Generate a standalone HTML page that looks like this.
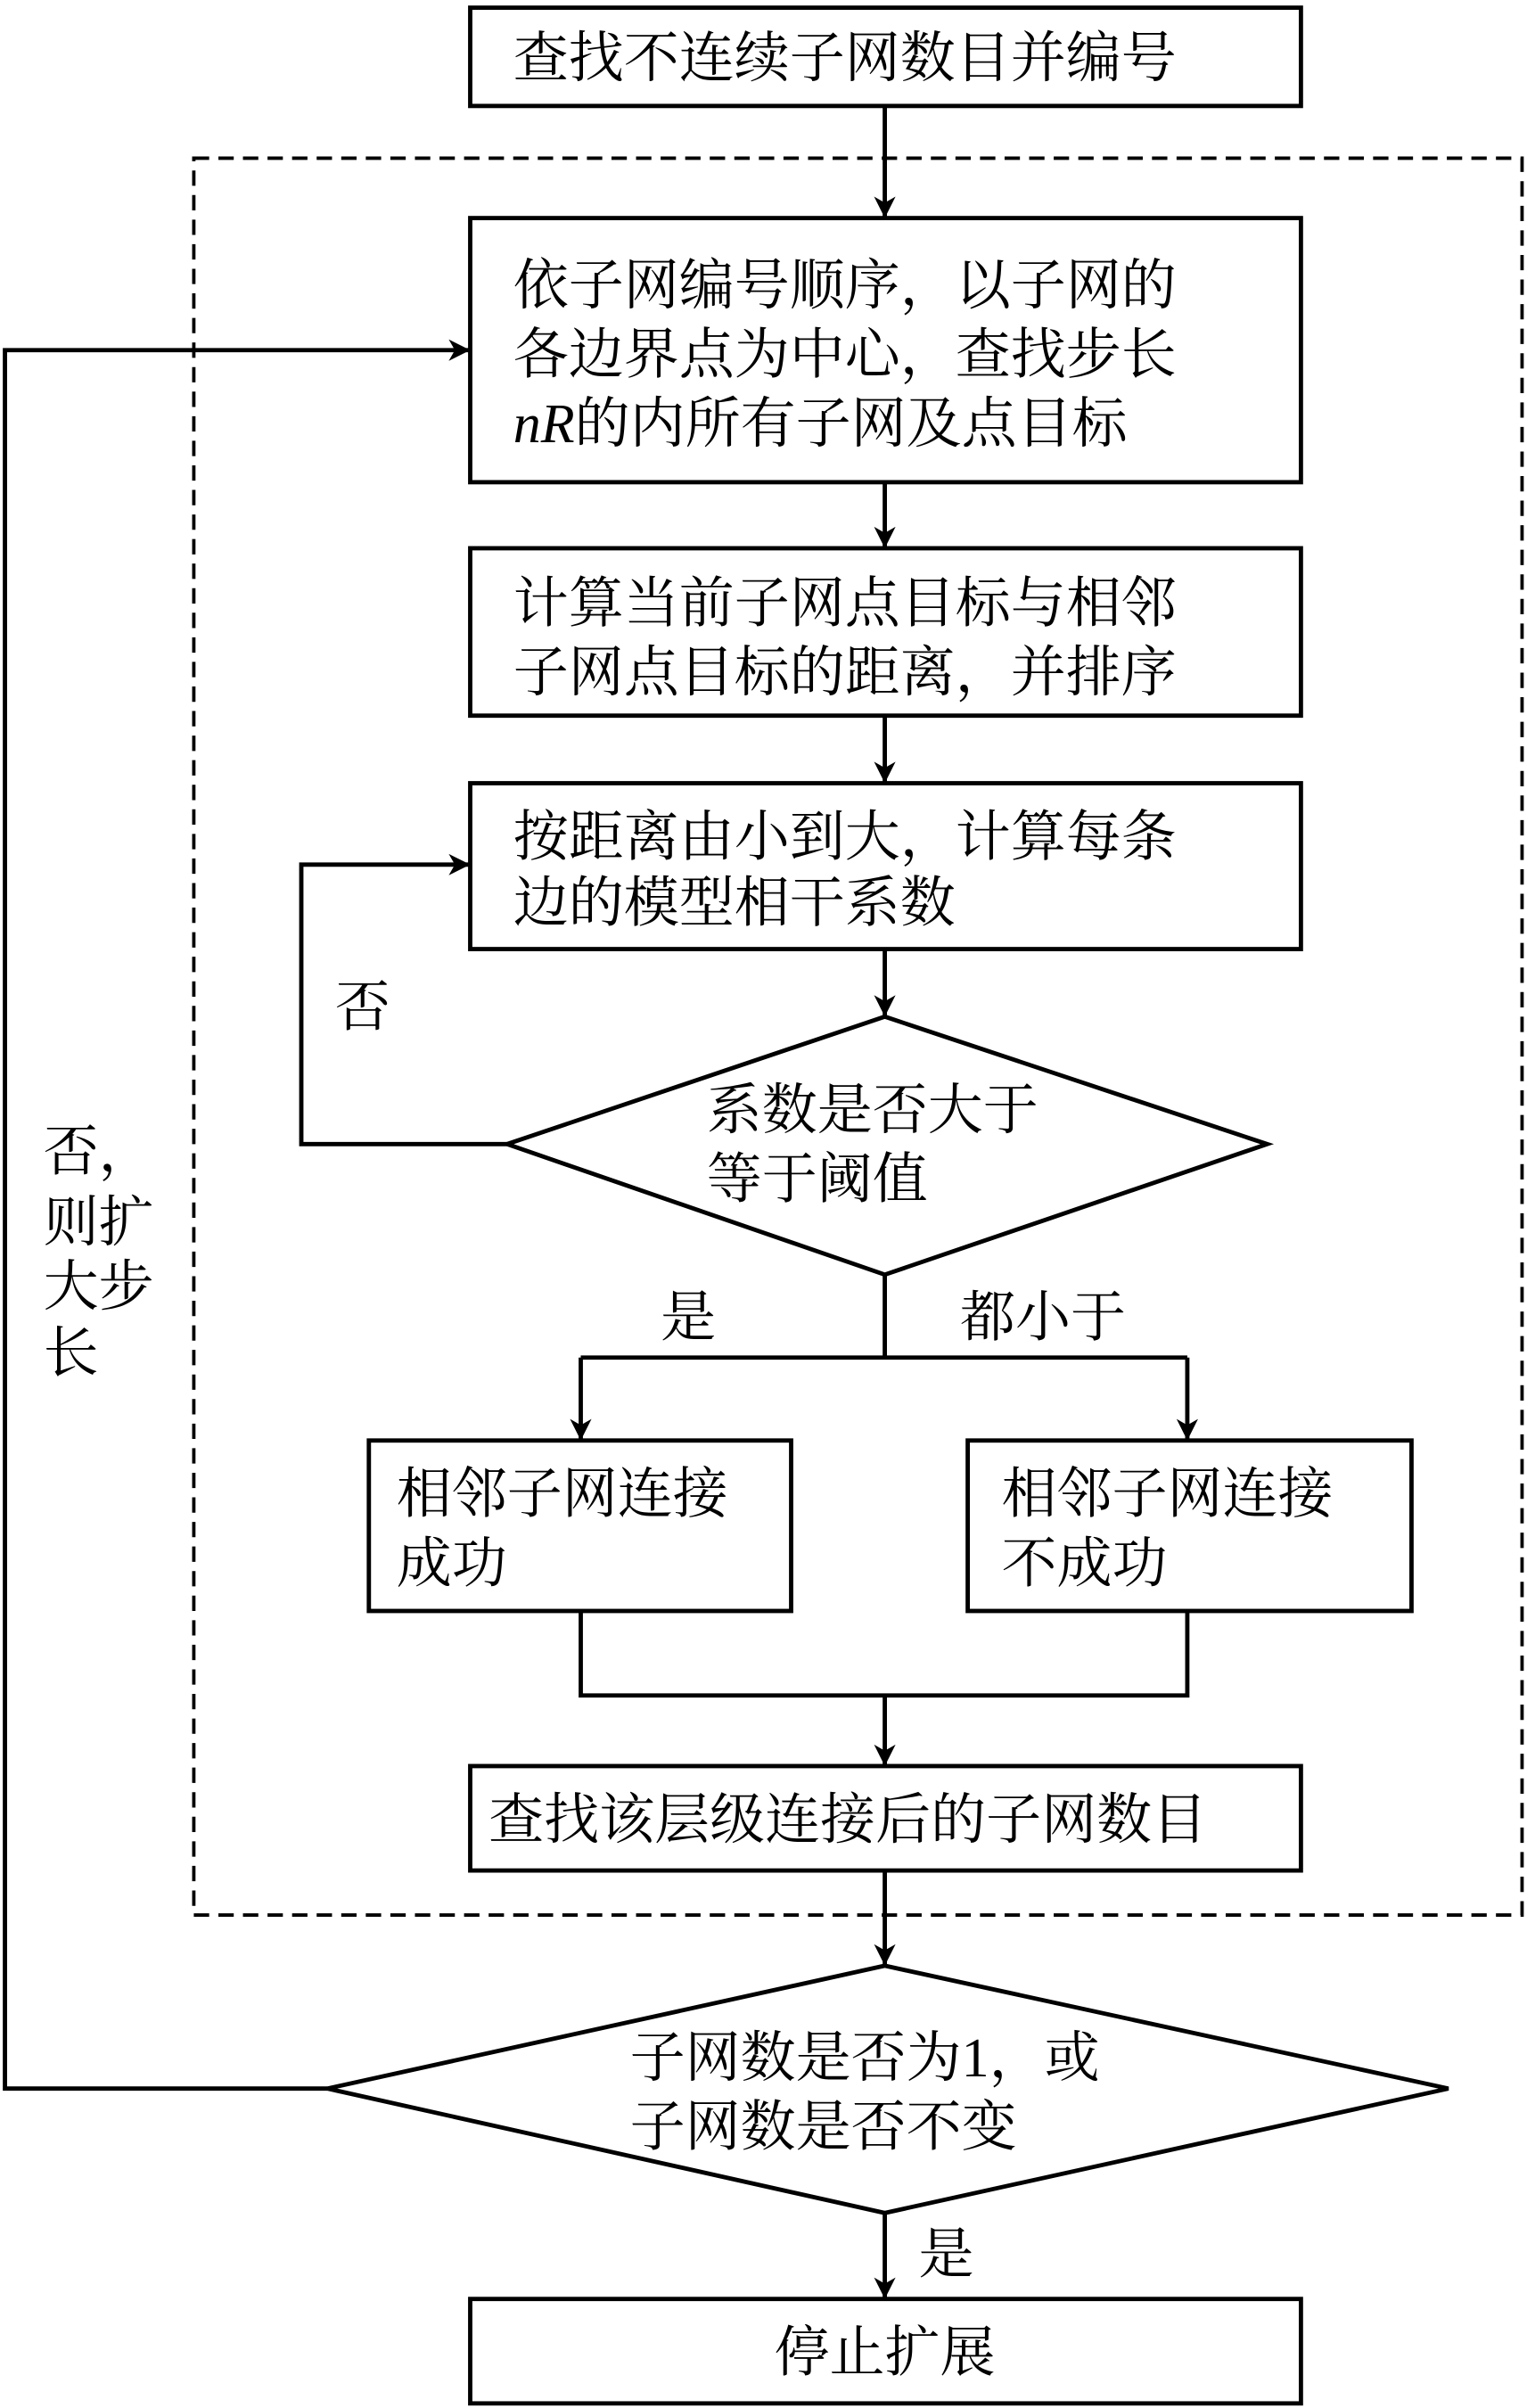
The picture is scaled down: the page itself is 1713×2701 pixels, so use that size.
<!DOCTYPE html>
<html><head><meta charset="utf-8"><style>
html,body{margin:0;padding:0;background:#fff;}
svg{display:block;}
text{font-family:"Liberation Serif","Noto Serif CJK SC",serif;font-size:36px;fill:#000;}
</style></head><body>
<svg width="1713" height="2701" viewBox="0 0 994 1568" xmlns="http://www.w3.org/2000/svg">
<defs><marker id="a" markerWidth="10" markerHeight="10" refX="9" refY="5" orient="auto" markerUnits="userSpaceOnUse"><path d="M0,0 L10,5 L0,10 L3,5 z" fill="#000"/></marker>
<marker id="b" markerWidth="14" markerHeight="16" refX="13" refY="8" orient="auto" markerUnits="userSpaceOnUse"><path d="M0,1 L14,8 L0,15 L4,8 z" fill="#000"/></marker></defs>
<g fill="none" stroke="#000" stroke-width="2.8">
<rect x="126" y="103" width="865" height="1144" stroke-dasharray="10,6" stroke-width="2.2"/>
<rect x="306" y="5" width="541" height="64"/>
<rect x="306" y="142" width="541" height="172"/>
<rect x="306" y="357" width="541" height="109"/>
<rect x="306" y="510" width="541" height="108"/>
<polygon points="576,662 825,745 576,830 330,745"/>
<rect x="240" y="938" width="275" height="111"/>
<rect x="630" y="938" width="289" height="111"/>
<rect x="306" y="1150" width="541" height="68"/>
<polygon points="576,1280 943,1360 576,1441 213,1360"/>
<rect x="306" y="1497" width="541" height="68"/>
<g marker-end="url(#b)">
<line x1="576" y1="69" x2="576" y2="141"/>
<line x1="576" y1="314" x2="576" y2="356"/>
<line x1="576" y1="466" x2="576" y2="509"/>
<line x1="576" y1="618" x2="576" y2="661"/>
<polyline points="330,745 196,745 196,563 305,563"/>
<line x1="378" y1="884" x2="378" y2="937"/>
<line x1="773" y1="884" x2="773" y2="937"/>
<line x1="576" y1="1104" x2="576" y2="1149"/>
<line x1="576" y1="1218" x2="576" y2="1279"/>
<polyline points="213,1360 3,1360 3,228 305,228"/>
<line x1="576" y1="1441" x2="576" y2="1496"/>
</g>
<polyline points="576,830 576,884"/>
<line x1="378" y1="884" x2="773" y2="884"/>
<polyline points="378,1049 378,1104 773,1104 773,1049"/>
</g>
<text x="334" y="50">查找不连续子网数目并编号</text>
<text x="334" y="198">依子网编号顺序，以子网的</text>
<text x="334" y="243">各边界点为中心，查找步长</text>
<text x="334" y="288"><tspan font-style="italic">nR</tspan>的内所有子网及点目标</text>
<text x="334" y="405">计算当前子网点目标与相邻</text>
<text x="334" y="450">子网点目标的距离，并排序</text>
<text x="334" y="557">按距离由小到大，计算每条</text>
<text x="334" y="600">边的模型相干系数</text>
<text x="218" y="668">否</text>
<text x="460" y="735">系数是否大于</text>
<text x="460" y="780">等于阈值</text>
<text x="430" y="870">是</text>
<text x="625" y="870">都小于</text>
<text x="258" y="985">相邻子网连接</text>
<text x="258" y="1030">成功</text>
<text x="652" y="985">相邻子网连接</text>
<text x="652" y="1030">不成功</text>
<text x="318" y="1197">查找该层级连接后的子网数目</text>
<text x="410" y="1352">子网数是否为1，或</text>
<text x="410" y="1397">子网数是否不变</text>
<text x="28" y="762">否，</text>
<text x="28" y="808">则扩</text>
<text x="28" y="850">大步</text>
<text x="28" y="893">长</text>
<text x="598" y="1480">是</text>
<text x="504" y="1544">停止扩展</text>
</svg>
</body></html>
